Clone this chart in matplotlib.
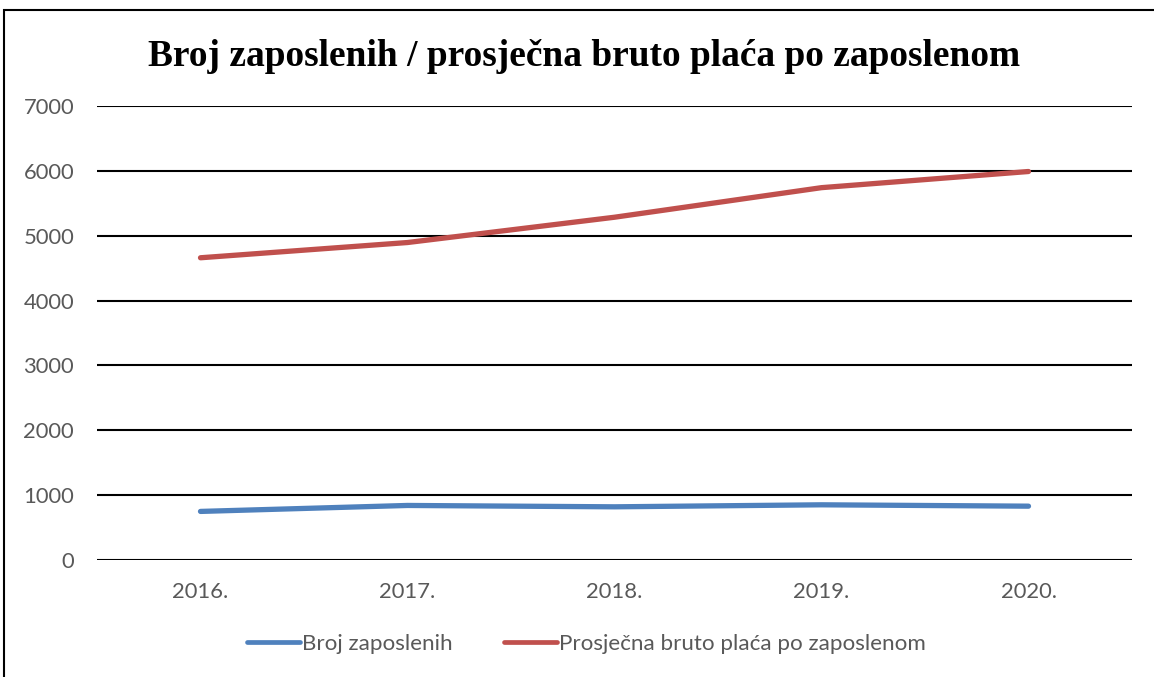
import matplotlib
matplotlib.use("Agg")
import matplotlib.pyplot as plt
from matplotlib.lines import Line2D
from matplotlib.patches import Rectangle

years = ["2016.", "2017.", "2018.", "2019.", "2020."]
broj_zaposlenih = [749, 841, 820, 851, 830]
prosjecna_placa = [4660, 4895, 5285, 5741, 5990]
y_ticks = [0, 1000, 2000, 3000, 4000, 5000, 6000, 7000]

title = "Broj zaposlenih / prosječna bruto plaća po zaposlenom"
label_blue = "Broj zaposlenih"
label_red = "Prosječna bruto plaća po zaposlenom"

blue = "#4F81BD"
red = "#C0504D"
gray = "#595959"
tfont = ["Lato", "DejaVu Sans"]
fs = 15.8

W, H = 1154, 677
fig = plt.figure(figsize=(W / 100, H / 100), dpi=100)
fig.patch.set_facecolor("white")

# outer frame (left & top visible)
fig.patches.append(Rectangle((4 / W, -0.05), 1.2, 1 - 10 / H + 0.05, transform=fig.transFigure,
                             fill=False, edgecolor="black", linewidth=1.5, zorder=0))

ax = fig.add_axes([97 / W, 1 - 560 / H, (1132 - 97) / W, (560 - 106) / H])
x = list(range(len(years)))
ax.plot(x, broj_zaposlenih, color=blue, linewidth=3.8, solid_capstyle="round", zorder=3)
ax.plot(x, prosjecna_placa, color=red, linewidth=3.8, solid_capstyle="round", zorder=3)

ax.set_xlim(-0.5, len(years) - 0.5)
ax.set_ylim(0, 7000)
ax.set_yticks(y_ticks)
ax.set_xticks(x)
ax.set_xticklabels(years)
for s in ax.spines.values():
    s.set_visible(False)
ax.grid(axis="y", color="black", linewidth=1.5, zorder=1)
ax.set_axisbelow(True)
ax.tick_params(axis="both", length=0, labelcolor=gray, labelsize=fs)
ax.tick_params(axis="y", pad=16.5)
ax.tick_params(axis="x", pad=16)
for lbl in ax.get_xticklabels() + ax.get_yticklabels():
    lbl.set_family(tfont)

fig.text(584 / W, 1 - 56 / H, title, ha="center", va="center",
         fontfamily="Liberation Serif", fontweight="bold", fontsize=26.9)

handles = [Line2D([], [], color=blue, linewidth=3.4, solid_capstyle="round"),
           Line2D([], [], color=red, linewidth=3.4, solid_capstyle="round")]
leg = fig.legend(handles, [label_blue, label_red], loc="center", ncol=2,
                 bbox_to_anchor=(586.5 / W, 1 - 644 / H), frameon=False,
                 handlelength=2.36, handletextpad=0.1, columnspacing=2.27,
                 prop={"family": tfont, "size": 16.1})
for t in leg.get_texts():
    t.set_color(gray)

fig.savefig("out.png", dpi=100)
